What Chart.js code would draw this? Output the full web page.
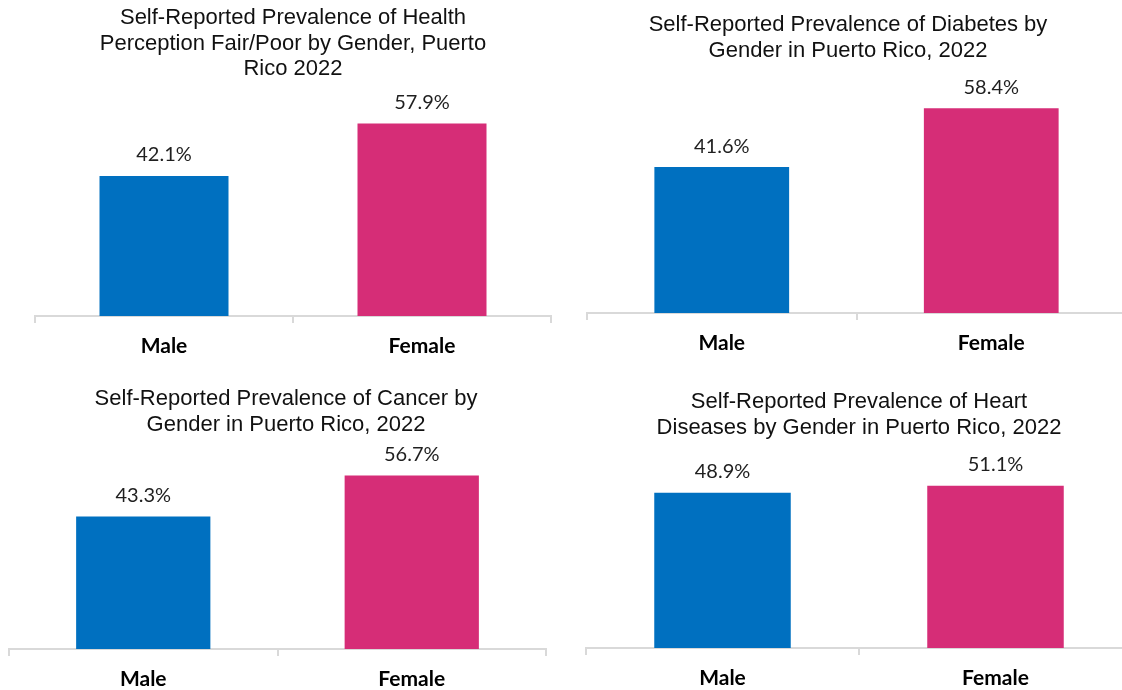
<!DOCTYPE html>
<html>
<head>
<meta charset="utf-8">
<title>Self-Reported Prevalence by Gender, Puerto Rico 2022</title>
<script src="https://cdn.jsdelivr.net/npm/chart.js@4.4.1/dist/chart.umd.min.js"></script>
<style>
  html, body { margin: 0; padding: 0; background: #fff; overflow: hidden; width: 1122px; height: 690px; }
  canvas { position: absolute; }
</style>
</head>
<body>
<canvas id="healthChart" width="561" height="370" style="left:0;top:0"></canvas>
<canvas id="diabetesChart" width="565" height="370" style="left:561px;top:0"></canvas>
<canvas id="cancerChart" width="563" height="320" style="left:0;top:370px"></canvas>
<canvas id="heartChart" width="571" height="320" style="left:561px;top:370px"></canvas>
<script>
// Données (%)
const genders = ['Male', 'Female'];
const healthFairPoor = [42.1, 57.9];
const diabetes = [41.6, 58.4];
const cancer = [43.3, 56.7];
const heartDiseases = [48.9, 51.1];

const healthTitle = ['Self-Reported Prevalence of Health', 'Perception Fair/Poor by Gender, Puerto', 'Rico 2022'];
const diabetesTitle = ['Self-Reported Prevalence of Diabetes by', 'Gender in Puerto Rico, 2022'];
const cancerTitle = ['Self-Reported Prevalence of Cancer by', 'Gender in Puerto Rico, 2022'];
const heartTitle = ['Self-Reported Prevalence of Heart', 'Diseases by Gender in Puerto Rico, 2022'];

const barColors = ['#0070C0', '#D62D77'];
const axisGrey = '#d9d9d9';

// Étiquettes de valeur au-dessus des barres
const valueLabels = {
  id: 'valueLabels',
  afterDatasetsDraw(chart) {
    const ctx = chart.ctx;
    const values = chart.data.datasets[0].data;
    ctx.save();
    ctx.font = '20px Lato';
    ctx.fillStyle = '#1f1f1f';
    ctx.textAlign = 'center';
    ctx.textBaseline = 'middle';
    chart.getDatasetMeta(0).data.forEach((bar, i) => {
      ctx.fillText(values[i].toFixed(1) + '%', bar.x, bar.y - 21);
    });
    ctx.restore();
  }
};

function makeChart(id, title, values, opt) {
  return new Chart(document.getElementById(id), {
    type: 'bar',
    data: {
      labels: genders,
      datasets: [{
        data: values,
        backgroundColor: barColors,
        borderWidth: 0,
        categoryPercentage: 0.5,
        barPercentage: 1
      }]
    },
    options: {
      responsive: false,
      animation: false,
      layout: { padding: opt.padding },
      plugins: {
        legend: { display: false },
        tooltip: { enabled: false },
        title: {
          display: true,
          text: title,
          color: '#111',
          font: { family: "'Liberation Sans', Arial, sans-serif", size: 22, weight: 'normal', lineHeight: 1.17 },
          padding: opt.titlePadding
        }
      },
      scales: {
        x: {
          grid: { drawOnChartArea: false, tickLength: 7, color: axisGrey, lineWidth: 2 },
          border: { color: axisGrey, width: 2 },
          ticks: {
            color: '#000',
            padding: 11,
            font: { family: 'Lato', size: 21, weight: 'bold' }
          },
          afterFit: s => { s.height = opt.axisHeight; }
        },
        y: {
          display: opt.yGap > 0,
          position: opt.yPos || 'left',
          min: 0,
          max: opt.yMax,
          grid: { display: false },
          border: { display: false },
          ticks: { display: false },
          afterFit: s => { s.width = opt.yGap; }
        }
      }
    },
    plugins: [valueLabels]
  });
}

makeChart('healthChart', healthTitle, healthFairPoor, {
  padding: { left: 35, right: 10, top: 0, bottom: 10 },
  titlePadding: { top: 5, bottom: 3 },
  axisHeight: 44, yMax: 69.4, yGap: 0
});

makeChart('diabetesChart', diabetesTitle, diabetes, {
  padding: { left: 9, right: 0, top: 0, bottom: 13 },
  titlePadding: { top: 12, bottom: 4 },
  axisHeight: 44, yMax: 70, yGap: 17, yPos: 'left'
});

makeChart('cancerChart', cancerTitle, cancer, {
  padding: { left: 9, right: 0, top: 0, bottom: 3 },
  titlePadding: { top: 16, bottom: 2 },
  axisHeight: 38, yMax: 68.5, yGap: 17, yPos: 'right'
});

makeChart('heartChart', heartTitle, heartDiseases, {
  padding: { left: 25, right: 0, top: 0, bottom: 4 },
  titlePadding: { top: 19, bottom: 2 },
  axisHeight: 38, yMax: 64.7, yGap: 0
});
</script>
</body>
</html>
